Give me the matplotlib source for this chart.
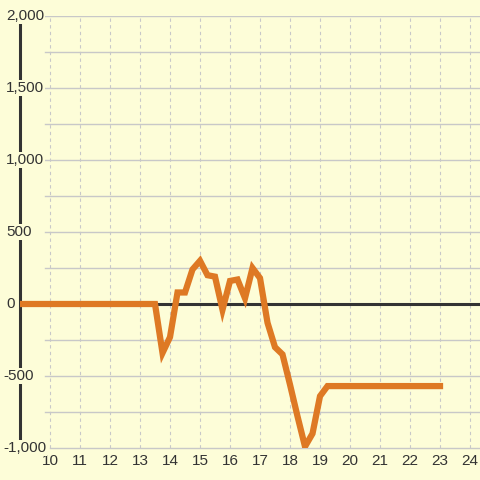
import matplotlib
matplotlib.use('Agg')
import matplotlib.pyplot as plt
import matplotlib.transforms as mtransforms

plt.rcParams['font.family'] = ['Liberation Sans', 'DejaVu Sans']

# hour of day vs value
hours = [9, 13.5, 13.75, 14, 14.25, 14.5, 14.75, 15, 15.25, 15.5, 15.75, 16, 16.25,
         16.5, 16.75, 17, 17.25, 17.5, 17.75, 18, 18.25, 18.5, 18.75, 19, 19.25, 23]
values = [0, 0, -340, -230, 80, 80, 240, 300, 200, 190, -40, 160, 170,
          40, 250, 180, -130, -300, -350, -560, -780, -990, -900, -640, -570, -570]

x_ticks = list(range(10, 25))
y_ticks = [-1000, -500, 0, 500, 1000, 1500, 2000]
y_labels = ['-1,000', '-500', '0', '500', '1,000', '1,500', '2,000']
y_grid = [-750, -500, -250, 250, 500, 750, 1000, 1250, 1500, 1750, 2000]

bg = '#fdfdd8'
txt = '#333333'
orange = '#de7924'

fig = plt.figure(figsize=(4.8, 4.8), dpi=100, facecolor=bg)
ax = fig.add_axes([20/480, 32/480, 460/480, 432/480])
ax.set_facecolor(bg)
ax.set_xlim(9, 24.333)
ax.set_ylim(-1000, 2000)

for s in ['top', 'right', 'bottom']:
    ax.spines[s].set_visible(False)
ax.spines['left'].set_linewidth(2.2)
ax.spines['left'].set_color(txt)

# grid
for g in y_grid:
    ax.axhline(g, xmin=25/460, color='#c8c8c8', lw=1.0, zorder=1)
ax.axhline(-1000, xmin=30/460, color='#c8c8c8', lw=1.0, zorder=1, clip_on=False)
for t in x_ticks:
    ax.axvline(t, color='#c8c8c8', lw=0.8, ls=(0, (3, 3)), zorder=1)
ax.axhline(0, color=txt, lw=2.2, zorder=2)

ax.plot(hours, values, color=orange, lw=4.5, solid_capstyle='projecting',
        solid_joinstyle='miter', zorder=3)

ax.set_xticks(x_ticks)
ax.set_xticklabels([str(t) for t in x_ticks])
ax.tick_params(axis='x', length=0, pad=4, labelsize=11, labelcolor=txt)
ax.set_yticks([])

trans = mtransforms.blended_transform_factory(fig.transFigure, ax.transData)
for v, lab in zip(y_ticks, y_labels):
    xpos = 3/480 if v < 0 else 6/480
    ax.text(xpos, v, lab, transform=trans, ha='left', va='center', fontsize=11,
            color=txt, zorder=5, clip_on=False,
            bbox=dict(facecolor=bg, edgecolor='none', pad=0.5))

fig.savefig('out.png', dpi=100, facecolor=bg)
